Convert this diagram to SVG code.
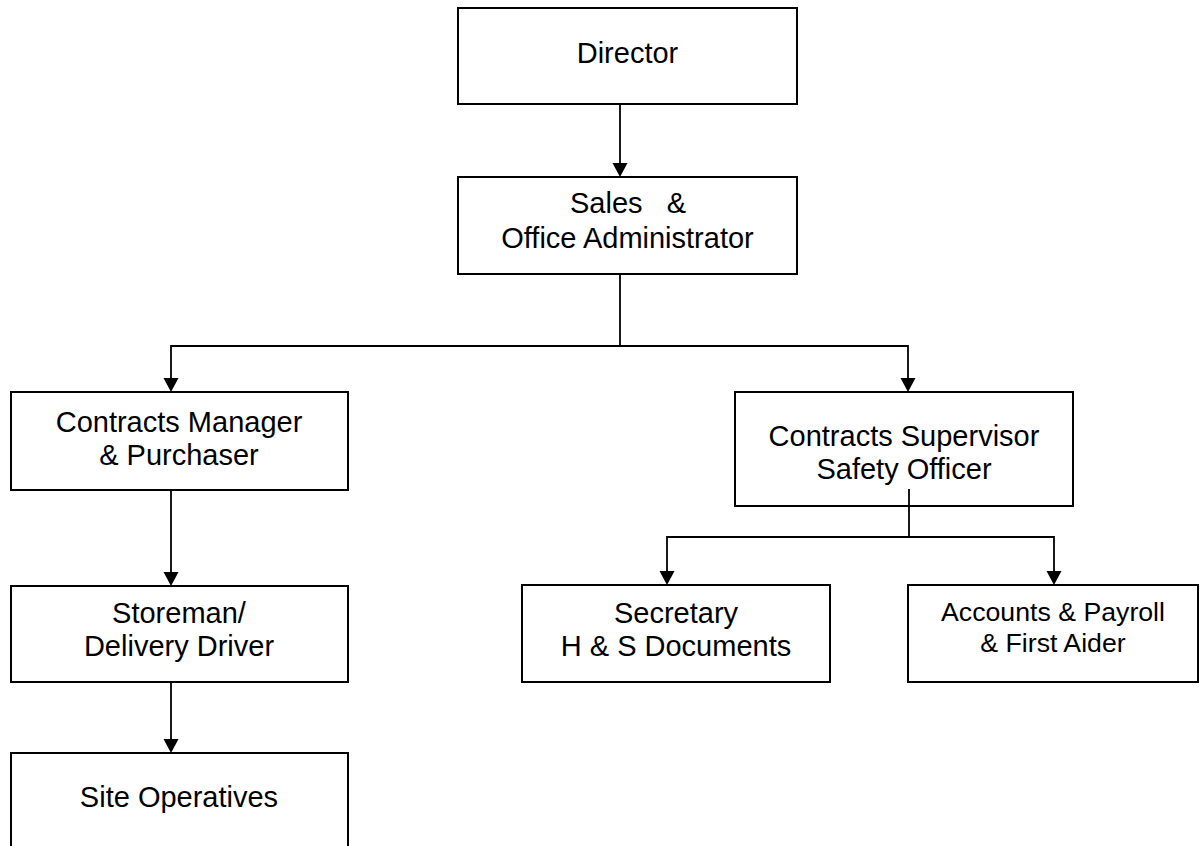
<svg xmlns="http://www.w3.org/2000/svg" width="1200" height="846" viewBox="0 0 1200 846">
<style>
.box{fill:#fff;stroke:#000;stroke-width:2}
.t{font-family:"Liberation Sans",Arial,sans-serif;font-size:29px;fill:#000;text-anchor:middle;white-space:pre}
.s{font-size:26.7px}
.c{fill:none;stroke:#000;stroke-width:1.8}
</style>
<rect width="1200" height="846" fill="#fff"/>
<g id="director">
<rect class="box" x="458" y="8" width="339" height="96"/>
<text class="t" x="627.5" y="63">Director</text>
</g>
<g id="sales">
<rect class="box" x="458" y="177" width="339" height="97"/>
<text class="t" x="628" y="213">Sales   &amp;</text>
<text class="t" x="627.5" y="248">Office Administrator</text>
</g>
<g id="contracts-manager">
<rect class="box" x="11" y="392" width="337" height="98"/>
<text class="t" x="179" y="432">Contracts Manager</text>
<text class="t" x="179" y="465">&amp; Purchaser</text>
</g>
<g id="contracts-supervisor">
<rect class="box" x="735" y="392" width="338" height="114"/>
<text class="t" x="904" y="446">Contracts Supervisor</text>
<text class="t" x="904" y="479">Safety Officer</text>
</g>
<g id="storeman">
<rect class="box" x="11" y="586" width="337" height="96"/>
<text class="t" x="179" y="623">Storeman/</text>
<text class="t" x="179" y="656">Delivery Driver</text>
</g>
<g id="secretary">
<rect class="box" x="522" y="585" width="308" height="97"/>
<text class="t" x="676" y="623">Secretary</text>
<text class="t" x="676" y="656">H &amp; S Documents</text>
</g>
<g id="accounts">
<rect class="box" x="908" y="585" width="290" height="97"/>
<text class="t s" x="1053" y="621">Accounts &amp; Payroll</text>
<text class="t s" x="1053" y="652">&amp; First Aider</text>
</g>
<g id="site-operatives">
<rect class="box" x="11" y="753" width="337" height="110"/>
<text class="t" x="179" y="807">Site Operatives</text>
</g>
<g id="connectors">
<path class="c" d="M620,104 V165"/>
<path class="c" d="M620,274 V346 H171 V380"/>
<path class="c" d="M620,346 H908 V380"/>
<path class="c" d="M171,490 V574"/>
<path class="c" d="M171,682 V741"/>
<path class="c" d="M909,489 V537 H667 V573"/>
<path class="c" d="M909,537 H1054 V573"/>
<g id="arrowheads">
<path d="M612.5,163 L627.5,163 L620,177 Z"/>
<path d="M163.5,378 L178.5,378 L171,392 Z"/>
<path d="M900.5,378 L915.5,378 L908,392 Z"/>
<path d="M163.5,572 L178.5,572 L171,586 Z"/>
<path d="M163.5,739 L178.5,739 L171,753 Z"/>
<path d="M659.5,571 L674.5,571 L667,585 Z"/>
<path d="M1046.5,571 L1061.5,571 L1054,585 Z"/>
</g>
</g>
</svg>
